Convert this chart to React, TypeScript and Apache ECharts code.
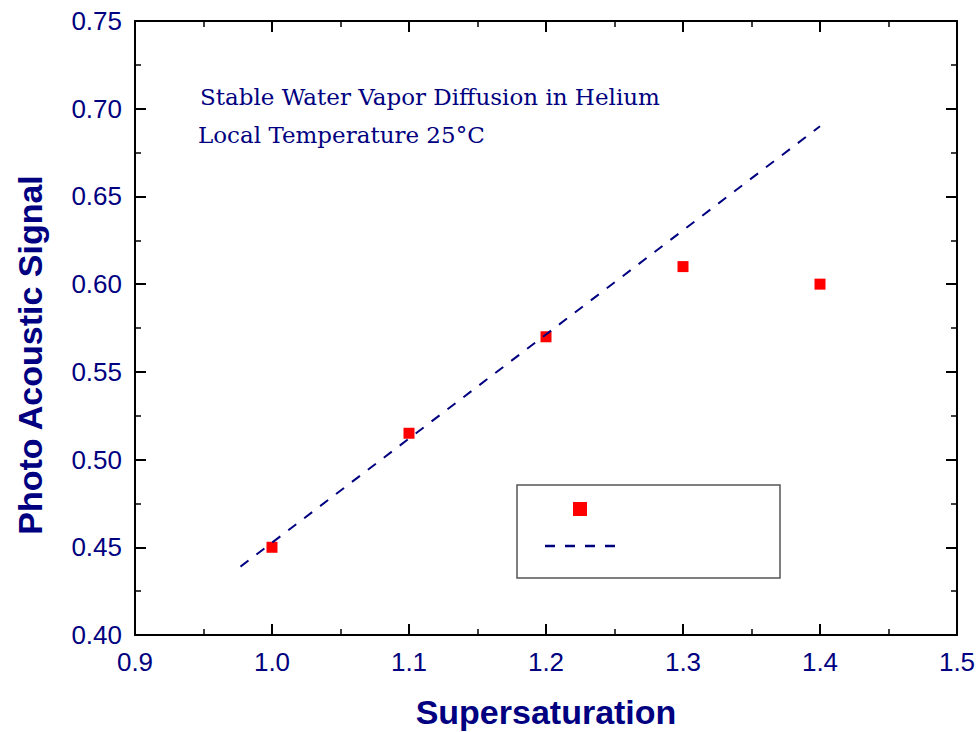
import React, { useEffect, useRef } from "react";
import * as echarts from "echarts";

const xValues = [1.0, 1.1, 1.2, 1.3, 1.4];
const yValues = [0.45, 0.515, 0.57, 0.61, 0.6];
const fitLine = [
  [0.977, 0.439],
  [1.4, 0.69],
];
const xRange = { min: 0.9, max: 1.5, interval: 0.1 };
const yRange = { min: 0.4, max: 0.75, interval: 0.05 };
const xTitle = "Supersaturation";
const yTitle = "Photo Acoustic Signal";
const annotation1 = "Stable Water Vapor Diffusion in Helium";
const annotation2 = "Local Temperature 25°C";

const NAVY = "#000080";

const mkTick = () => ({ show: true, inside: true, length: 11, lineStyle: { color: "#000", width: 2 } });
const mkMinor = () => ({ show: true, splitNumber: 2, length: 6, lineStyle: { color: "#000", width: 1.5 } });
const mkLine = () => ({ show: true, onZero: false, lineStyle: { color: "#000", width: 2 } });

export default function App() {
  const ref = useRef<HTMLDivElement>(null);
  useEffect(() => {
    if (!ref.current) return;
    const chart = echarts.init(ref.current, null, { renderer: "svg" });
    chart.setOption({
      animation: false,
      backgroundColor: "#fff",
      grid: { left: 135, right: 23, top: 21, bottom: 97, containLabel: false, outerBoundsMode: "none" },
      xAxis: [
        {
          type: "value",
          ...xRange,
          position: "bottom",
          axisLine: mkLine(),
          axisTick: mkTick(),
          minorTick: mkMinor(),
          splitLine: { show: false },
          axisLabel: {
            color: NAVY,
            fontSize: 26,
            fontFamily: "Liberation Sans, Arial",
            margin: 14,
            formatter: (v: number) => v.toFixed(1),
          },
        },
        {
          type: "value",
          ...xRange,
          position: "top",
          axisLine: mkLine(),
          axisTick: mkTick(),
          minorTick: mkMinor(),
          splitLine: { show: false },
          axisLabel: { show: false },
        },
      ],
      yAxis: [
        {
          type: "value",
          ...yRange,
          position: "left",
          axisLine: mkLine(),
          axisTick: mkTick(),
          minorTick: mkMinor(),
          splitLine: { show: false },
          axisLabel: {
            color: NAVY,
            fontSize: 26,
            fontFamily: "Liberation Sans, Arial",
            margin: 13,
            formatter: (v: number) => v.toFixed(2),
          },
        },
        {
          type: "value",
          ...yRange,
          position: "right",
          axisLine: mkLine(),
          axisTick: mkTick(),
          minorTick: mkMinor(),
          splitLine: { show: false },
          axisLabel: { show: false },
        },
      ],
      series: [
        {
          type: "scatter",
          data: xValues.map((x, i) => [x, yValues[i]]),
          symbol: "rect",
          symbolSize: 11,
          itemStyle: { color: "#ff0000", opacity: 1 },
          z: 2,
        },
        {
          type: "line",
          data: fitLine,
          showSymbol: false,
          symbol: "none",
          lineStyle: { color: NAVY, width: 2, type: [10, 10] },
          z: 3,
        },
      ],
      graphic: [
        {
          type: "text",
          x: 30,
          y: 355,
          rotation: Math.PI / 2,
          style: {
            text: yTitle,
            fill: NAVY,
            font: "bold 34px 'Liberation Sans', Arial",
            align: "center",
            verticalAlign: "middle",
          },
        },
        {
          type: "text",
          x: 546,
          y: 712,
          style: {
            text: xTitle,
            fill: NAVY,
            font: "bold 34px 'Liberation Sans', Arial",
            align: "center",
            verticalAlign: "middle",
          },
        },
        {
          type: "text",
          x: 200,
          y: 97,
          style: {
            text: annotation1,
            fill: NAVY,
            font: "23px 'DejaVu Serif', serif",
            verticalAlign: "middle",
          },
        },
        {
          type: "text",
          x: 198,
          y: 135,
          style: {
            text: annotation2,
            fill: NAVY,
            font: "23px 'DejaVu Serif', serif",
            verticalAlign: "middle",
          },
        },
        {
          type: "rect",
          shape: { x: 517, y: 485, width: 263, height: 93 },
          style: { fill: "#fff", stroke: "#555", lineWidth: 1.5 },
          z: 10,
        },
        {
          type: "rect",
          shape: { x: 573, y: 502, width: 14, height: 14 },
          style: { fill: "#ff0000" },
          z: 11,
        },
        {
          type: "line",
          shape: { x1: 545, y1: 546, x2: 615, y2: 546 },
          style: { stroke: NAVY, lineWidth: 2.5, lineDash: [10, 10] },
          z: 11,
        },
      ],
    });
    return () => chart.dispose();
  }, []);
  return <div ref={ref} style={{ width: 980, height: 732, position: "absolute", left: 0, top: 0 }} />;
}
